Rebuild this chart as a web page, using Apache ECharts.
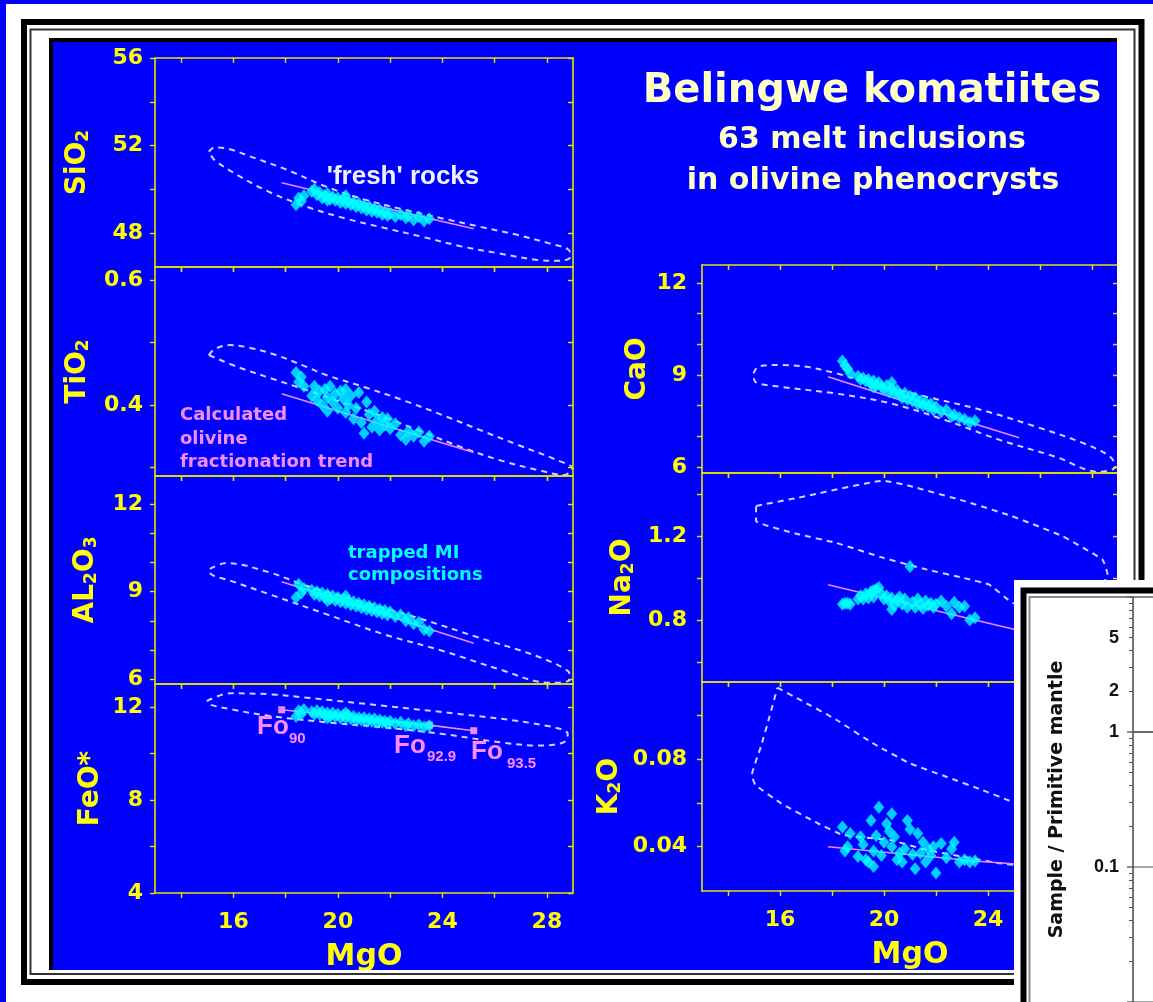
<!DOCTYPE html>
<html><head><meta charset="utf-8">
<script src="https://cdn.jsdelivr.net/npm/echarts@6/dist/echarts.min.js"></script>
<style>html,body{margin:0;padding:0;background:#0000fe}#c{width:1153px;height:1002px}</style>
</head><body><div id="c"></div><script>
// ---------------- DATA ----------------
const mgoTicks = [14, 16, 18, 20, 22, 24, 26, 28];
const mgoLabels = [16, 20, 24, 28];

// melt inclusions (cyan diamonds)
const miMgO  = [18.4,18.5,18.6,18.7,19.0,19.1,19.2,19.3,19.4,19.5,19.6,19.7,19.8,19.9,20.0,20.1,20.2,20.3,20.4,20.5,20.6,20.7,20.8,20.9,21.0,21.1,21.2,21.3,21.4,21.5,21.6,21.7,21.8,21.9,22.0,22.2,22.4,22.6,22.7,22.9,23.1,23.3,23.5,19.6,20.3];
const miSiO2 = [49.3,49.6,49.45,49.7,49.9,50.0,49.75,49.85,49.6,49.7,49.8,49.55,49.65,49.5,49.6,49.4,49.55,49.35,49.45,49.3,49.4,49.2,49.35,49.15,49.25,49.05,49.2,49.0,49.1,48.95,49.05,48.85,48.95,48.8,48.9,48.75,48.85,48.7,48.8,48.6,48.75,48.55,48.65,49.5,49.7];
const miTiO2 = [0.452,0.437,0.445,0.43,0.415,0.43,0.408,0.422,0.40,0.425,0.412,0.43,0.405,0.418,0.395,0.422,0.41,0.388,0.40,0.415,0.378,0.395,0.42,0.372,0.355,0.405,0.385,0.365,0.39,0.375,0.36,0.38,0.368,0.378,0.362,0.37,0.352,0.345,0.358,0.35,0.357,0.342,0.35,0.39,0.425];
const miAl2O3 = [8.8,9.25,8.95,9.1,9.05,8.9,9.0,8.85,8.95,8.8,8.9,8.75,8.85,8.7,8.8,8.65,8.75,8.6,8.7,8.55,8.65,8.5,8.6,8.45,8.55,8.4,8.5,8.35,8.45,8.3,8.4,8.25,8.35,8.2,8.3,8.15,8.2,8.0,8.1,7.9,7.95,7.7,7.65,8.7,8.85];
const miFeO  = [11.6,11.85,11.7,11.9,11.8,11.7,11.85,11.7,11.8,11.65,11.75,11.6,11.75,11.6,11.7,11.55,11.65,11.55,11.65,11.5,11.6,11.45,11.55,11.45,11.55,11.4,11.5,11.4,11.5,11.35,11.45,11.35,11.4,11.3,11.4,11.3,11.35,11.2,11.3,11.2,11.25,11.15,11.2,11.55,11.75];
const miCaO  = [9.45,9.3,9.2,9.05,8.95,8.85,8.9,8.8,8.85,8.7,8.8,8.65,8.75,8.6,8.55,8.65,8.45,8.55,8.4,8.5,8.35,8.25,8.4,8.2,8.3,8.15,8.25,8.05,8.15,8.0,8.1,7.95,8.05,7.85,7.95,7.8,7.85,7.65,7.7,7.6,7.55,7.45,7.5,8.6,8.75];
const miNa2O = [0.875,0.88,0.88,0.875,0.9,0.915,0.9,0.925,0.905,0.935,0.91,0.945,0.955,0.925,0.9,0.915,0.89,0.905,0.87,0.895,0.91,0.875,0.9,0.86,1.055,0.885,0.86,0.9,0.875,0.855,0.89,0.87,0.88,0.86,0.875,0.89,0.865,0.83,0.885,0.86,0.865,0.8,0.81,0.94,0.85];
const miK2O  = [0.049,0.038,0.04,0.046,0.0355,0.0445,0.041,0.034,0.033,0.052,0.038,0.045,0.058,0.036,0.042,0.0505,0.047,0.04,0.0445,0.034,0.037,0.033,0.039,0.052,0.048,0.0365,0.03,0.046,0.037,0.042,0.033,0.039,0.036,0.04,0.028,0.0415,0.035,0.039,0.042,0.033,0.034,0.033,0.0335,0.031,0.055];

// calculated olivine fractionation trend (Fo90, Fo92.9, Fo93.5)
const trendMgO = [17.85, 23.5, 25.2];
const trSiO2  = [50.3, 48.67, 48.2];
const trTiO2  = [0.418, 0.3455, 0.324];
const trAl2O3 = [9.34, 7.72, 7.23];
const trFeO   = [11.89, 11.23, 10.99];
const trCaO   = [8.94, 7.40, 6.95];
const trNa2O  = [0.968, 0.80, 0.75];
const trK2O   = [0.040, 0.0335, 0.032];
const trendNames = ['Fo90', 'Fo92.9', 'Fo93.5'];

// 'fresh' rocks fields (dashed outlines) [MgO, oxide]
const envSiO2 = [[15.06,51.72],[15.28,51.92],[15.87,51.83],[16.6,51.52],[18.08,50.88],[19.55,50.12],[21.0,49.54],[22.5,49.08],[24.0,48.67],[25.44,48.29],[26.9,47.91],[28.09,47.53],[28.82,47.25],[28.9,46.92],[28.53,46.73],[27.65,46.77],[26.17,47.07],[24.7,47.4],[23.23,47.83],[21.76,48.24],[20.28,48.67],[18.81,49.2],[17.35,49.89],[16.16,50.65],[15.28,51.34],[15.06,51.72]];
const envTiO2 = [[15.06,0.48],[15.3,0.49],[15.87,0.496],[16.6,0.492],[17.64,0.48],[18.8,0.461],[19.55,0.448],[21.0,0.429],[22.48,0.408],[24.0,0.384],[25.44,0.36],[26.9,0.336],[28.38,0.312],[28.97,0.299],[28.68,0.288],[27.65,0.296],[26.17,0.312],[24.7,0.333],[23.23,0.357],[21.76,0.381],[20.28,0.4027],[18.8,0.424],[17.64,0.44],[16.16,0.461],[15.06,0.48]];
const envAl2O3 = [[15.1,9.78],[15.72,9.98],[17.35,9.67],[18.8,9.2],[21.0,8.63],[23.2,8.06],[25.4,7.42],[27.6,6.79],[28.8,6.28],[28.9,5.99],[28.1,5.87],[26.2,6.33],[24.0,6.97],[21.75,7.54],[19.55,8.23],[17.35,8.92],[15.87,9.38],[15.13,9.61],[15.1,9.78]];
const envFeO = [[14.99,12.27],[15.87,12.6],[17.35,12.56],[18.8,12.41],[21.75,12.06],[24.7,11.7],[27.65,11.27],[28.8,10.85],[28.65,10.49],[27.65,10.35],[26.2,10.49],[24.0,10.85],[21.75,11.13],[19.55,11.35],[17.35,11.63],[15.87,11.92],[15.06,12.13],[14.99,12.27]];
const envCaO = [[14.98,9.05],[15.19,9.28],[16.04,9.32],[17.02,9.26],[18.15,9.05],[19.55,8.72],[21.66,8.28],[23.77,7.85],[25.88,7.3],[27.7,6.76],[28.7,6.33],[28.9,6.0],[28.27,5.84],[26.6,6.33],[24.48,6.87],[22.37,7.52],[20.26,8.07],[18.15,8.39],[16.04,8.61],[15.05,8.77],[14.98,9.05]];
const envNa2O = [[15.08,1.344],[16.74,1.384],[19.98,1.464],[20.96,1.44],[23.07,1.368],[24.9,1.296],[26.86,1.2],[28.4,1.088],[28.6,1.016],[28.0,0.9],[26.5,0.86],[24.97,0.88],[24.05,0.968],[23.07,1.0],[21.66,1.04],[19.98,1.096],[18.15,1.168],[16.74,1.208],[15.08,1.272],[15.08,1.344]];
const envK2O = [[15.9,0.1125],[16.74,0.1072],[18.15,0.098],[19.55,0.0873],[20.96,0.0782],[22.37,0.072],[23.77,0.0659],[24.9,0.0606],[27.0,0.05],[26.5,0.03],[24.47,0.0324],[23.07,0.0354],[21.66,0.0384],[20.26,0.043],[18.43,0.0453],[17.45,0.0507],[16.04,0.0598],[15.05,0.0682],[14.92,0.0728],[15.27,0.0858],[15.6,0.0995],[15.9,0.1125]];

// y-axis ticks / labels
const ticksSiO2 = [48, 50, 52, 54, 56],      labelsSiO2 = [48, 52, 56];
const ticksTiO2 = [0.3, 0.4, 0.5, 0.6],       labelsTiO2 = [0.4, 0.6];
const ticksAl2O3 = [6, 7, 8, 9, 10, 11, 12],  labelsAl2O3 = [6, 9, 12];
const ticksFeO = [4, 6, 8, 10, 12],           labelsFeO = [4, 8, 12];
const ticksCaO = [6, 7, 8, 9, 10, 11, 12],    labelsCaO = [6, 9, 12];
const ticksNa2O = [0.6, 0.8, 1.0, 1.2, 1.4],  labelsNa2O = [0.8, 1.2];
const ticksK2O = [0.04, 0.06, 0.08, 0.1],     labelsK2O = [0.04, 0.08];

// inset (log axis) ticks
const insetLabels = [5, 2, 1, 0.1];
const insetMinor = [0.02,0.03,0.04,0.05,0.06,0.07,0.08,0.09,0.2,0.3,0.4,0.5,0.6,0.7,0.8,0.9,2,3,4,5,6,7,8,9];

// ---------------- STYLE / LAYOUT ----------------
const YEL = '#FFFF00', AXC = '#E6E600', CYAN = '#00FFFF', PINK = '#EE88F2', ENV = '#D2D2FF';
const DJ = '"DejaVu Sans", sans-serif';
const LB = '"Liberation Sans", Arial, sans-serif';

const panels = [
  {name:'{m|SiO}{s|2}', mi:miSiO2, env:envSiO2, tr:trSiO2, min:46.45, max:56, ticks:ticksSiO2, labels:labelsSiO2, smooth:0.35},
  {name:'{m|TiO}{s|2}', mi:miTiO2, env:envTiO2, tr:trTiO2, min:0.2864, max:0.621, ticks:ticksTiO2, labels:labelsTiO2, smooth:0.35},
  {name:'{m|AL}{s|2}{m|O}{s|3}', mi:miAl2O3, env:envAl2O3, tr:trAl2O3, min:5.83, max:12.97, ticks:ticksAl2O3, labels:labelsAl2O3, smooth:0.35},
  {name:'{m|FeO*}', mi:miFeO, env:envFeO, tr:trFeO, min:4, max:13, ticks:ticksFeO, labels:labelsFeO, smooth:0.35, bottom:true, fo:true},
  {name:'{m|CaO}', mi:miCaO, env:envCaO, tr:trCaO, min:5.8, max:12.58, ticks:ticksCaO, labels:labelsCaO, smooth:0.35},
  {name:'{m|Na}{s|2}{m|O}', mi:miNa2O, env:envNa2O, tr:trNa2O, min:0.504, max:1.501, ticks:ticksNa2O, labels:labelsNa2O, smooth:0.12},
  {name:'{m|K}{s|2}{m|O}', mi:miK2O, env:envK2O, tr:trK2O, min:0.0198, max:0.1151, ticks:ticksK2O, labels:labelsK2O, smooth:0.12, bottom:true}
];
const layout = [
  {left:155, top:58,  width:418, height:209, nameGap:63, lm:12},
  {left:155, top:267, width:418, height:209, nameGap:63, lm:12},
  {left:155, top:476, width:418, height:208, nameGap:55, lm:12},
  {left:155, top:684, width:418, height:209, nameGap:50, lm:12},
  {left:702, top:265, width:416, height:208, nameGap:50, lm:15},
  {left:702, top:473, width:416, height:209, nameGap:65, lm:15},
  {left:702, top:682, width:416, height:209, nameGap:78, lm:15}
];

const grids = [], xAxes = [], yAxes = [], series = [];
const axLine = {show:true, onZero:false, lineStyle:{color:AXC, width:1.6}};
const tickStyle = {color:AXC, width:1.4};
const nameRich = {
  m:{fontFamily:DJ, fontWeight:'bold', fontSize:28, color:YEL},
  s:{fontFamily:DJ, fontWeight:'bold', fontSize:17, color:YEL, verticalAlign:'bottom'}
};
const tickFont = {color:YEL, fontFamily:DJ, fontWeight:'bold', fontSize:22};

panels.forEach((p, i) => {
  const L = layout[i];
  grids.push({left:L.left, top:L.top, width:L.width, height:L.height, containLabel:false});
  // bottom x
  xAxes.push({gridIndex:i, type:'value', min:13, max:29, position:'bottom', z:5,
    axisLine:axLine, splitLine:{show:false},
    axisTick:{show:true, inside:false, length:5, customValues:mgoTicks, lineStyle:tickStyle},
    axisLabel:Object.assign({show:!!p.bottom, customValues:mgoLabels, margin:18}, tickFont),
    name:p.bottom ? 'MgO' : '', nameLocation:'middle', nameGap:49,
    nameTextStyle:{color:YEL, fontFamily:DJ, fontWeight:'bold', fontSize:30}});
  // top x
  xAxes.push({gridIndex:i, type:'value', min:13, max:29, position:'top', z:5,
    axisLine:axLine, splitLine:{show:false},
    axisTick:{show:true, inside:true, length:5, customValues:mgoTicks, lineStyle:tickStyle},
    axisLabel:{show:false}});
  // left y
  yAxes.push({gridIndex:i, type:'value', min:p.min, max:p.max, position:'left', z:5,
    axisLine:axLine, splitLine:{show:false},
    axisTick:{show:true, inside:false, length:5, customValues:p.ticks, lineStyle:tickStyle},
    axisLabel:Object.assign({show:true, customValues:p.labels, margin:L.lm}, tickFont),
    name:p.name, nameLocation:'middle', nameRotate:90, nameGap:L.nameGap,
    nameTextStyle:{rich:nameRich}});
  // right y
  yAxes.push({gridIndex:i, type:'value', min:p.min, max:p.max, position:'right', z:5,
    axisLine:axLine, splitLine:{show:false},
    axisTick:{show:true, inside:true, length:5, customValues:p.ticks, lineStyle:tickStyle},
    axisLabel:{show:false}});

  const xi = 2 * i, yi = 2 * i;
  series.push({type:'line', xAxisIndex:xi, yAxisIndex:yi, data:p.env, showSymbol:false, smooth:p.smooth,
    lineStyle:{color:ENV, width:2, type:[6, 5]}, silent:true, z:2});
  series.push({type:'line', xAxisIndex:xi, yAxisIndex:yi,
    data:trendMgO.map((m, k) => ({name:trendNames[k], value:[m, p.tr[k]]})),
    showSymbol:!!p.fo, symbol:'rect', symbolSize:7, itemStyle:{color:PINK},
    lineStyle:{color:PINK, width:1.6}, silent:true, z:3});
  series.push({type:'scatter', xAxisIndex:xi, yAxisIndex:yi,
    data:miMgO.map((m, k) => [m, p.mi[k]]).filter(d => d[1] !== undefined),
    symbol:'diamond', symbolSize:[11, 13], itemStyle:{color:CYAN}, silent:true, z:4});
});

// inset grid (log scale drawn as log10 values)
const IG = panels.length;
grids.push({left:1133, top:597, width:200, height:427});
const lg = v => Math.log10(v);
xAxes.push({gridIndex:IG, type:'value', min:0, max:1, position:'top', z:72,
  axisLine:{show:true, lineStyle:{color:'#555', width:1.5}}, axisTick:{show:false}, axisLabel:{show:false}, splitLine:{show:false}});
yAxes.push({gridIndex:IG, type:'value', min:-2, max:1, interval:1, position:'left', z:72,
  axisLine:{show:true, onZero:false, lineStyle:{color:'#444', width:1.5}},
  axisTick:{show:true, length:6, lineStyle:{color:'#666', width:1.5}},
  splitLine:{show:true, lineStyle:{color:'#888', width:1.5}},
  axisLabel:{show:true, customValues:insetLabels.map(lg), margin:14, color:'#111', fontFamily:LB, fontWeight:'bold', fontSize:18,
    formatter:v => String(+Math.pow(10, v).toPrecision(2))},
  name:'Sample / Primitive mantle', nameLocation:'middle', nameRotate:90, nameGap:66,
  nameTextStyle:{color:'#111', fontFamily:DJ, fontWeight:'bold', fontSize:19}});
yAxes.push({gridIndex:IG, type:'value', min:-2, max:1, position:'left', z:72,
  axisLine:{show:false}, splitLine:{show:false}, axisLabel:{show:false},
  axisTick:{show:true, length:4, customValues:insetMinor.map(lg), lineStyle:{color:'#555', width:1}}});

// ---------------- GRAPHICS (frame, texts) ----------------
const txt = (t, x, y, font, fill, align) => ({type:'text', x, y, z:10,
  style:{text:t, font, fill, textAlign:align || 'center', textVerticalAlign:'middle'}});
const rect = (x, y, w, h, fill, z) => ({type:'rect', z, shape:{x, y, width:w, height:h}, style:{fill}});
const frame = (x, y, w, h, stroke, lw, z) => ({type:'rect', z, shape:{x, y, width:w, height:h}, style:{fill:'none', stroke, lineWidth:lw}});

const graphics = [
  // white outer frame ring
  rect(6, 4, 1147, 34, '#FFFFFF', 50),
  rect(6, 4, 43, 998, '#FFFFFF', 50),
  rect(1117, 4, 36, 998, '#FFFFFF', 50),
  rect(6, 970, 1147, 32, '#FFFFFF', 50),
  rect(49, 38, 1068, 4, '#000000', 51),
  rect(49, 38, 4, 932, '#000000', 51),
  frame(24, 22, 1117.5, 960, '#000000', 6, 51),
  frame(30.5, 29.5, 1104, 944.5, '#333333', 2, 51),
  // inset panel
  rect(1014, 580, 139, 422, '#FFFFFF', 60),
  frame(1023.5, 590.5, 200, 500, '#000000', 6, 61),
  frame(1029.5, 597, 200, 500, '#888888', 2, 61),
  // titles
  txt('Belingwe komatiites', 872, 92, 'bold 40px ' + DJ, '#FFFFC8'),
  txt('63 melt inclusions', 872, 140, 'bold 30px ' + DJ, '#FFFFC8'),
  txt('in olivine phenocrysts', 873, 181, 'bold 30px ' + DJ, '#FFFFC8'),
  // annotations
  txt("'fresh' rocks", 403, 177, 'bold 26px ' + LB, '#F2F2FF'),
  txt('Calculated', 180, 415, 'bold 18px ' + DJ, '#F48CF4', 'left'),
  txt('olivine', 180, 439, 'bold 18px ' + DJ, '#F48CF4', 'left'),
  txt('fractionation trend', 180, 462, 'bold 18px ' + DJ, '#F48CF4', 'left'),
  txt('trapped MI', 348, 553, 'bold 18px ' + DJ, CYAN, 'left'),
  txt('compositions', 348, 575, 'bold 18px ' + DJ, CYAN, 'left'),
  txt('Fo', 257, 727, 'bold 26px ' + LB, '#FF8CFF', 'left'),
  txt('90', 289, 739, 'bold 15px ' + LB, '#FF8CFF', 'left'),
  txt('Fo', 394, 746, 'bold 26px ' + LB, '#FF8CFF', 'left'),
  txt('92.9', 427, 757, 'bold 15px ' + LB, '#FF8CFF', 'left'),
  txt('Fo', 471, 752, 'bold 26px ' + LB, '#FF8CFF', 'left'),
  txt('93.5', 507, 764, 'bold 15px ' + LB, '#FF8CFF', 'left')
];

const chart = echarts.init(document.getElementById('c'), null, {renderer:'canvas', width:1153, height:1002});
chart.setOption({
  backgroundColor:'#0000FE',
  animation:false,
  grid:grids, xAxis:xAxes, yAxis:yAxes, series:series,
  graphic:{elements:graphics}
});
</script></body></html>
